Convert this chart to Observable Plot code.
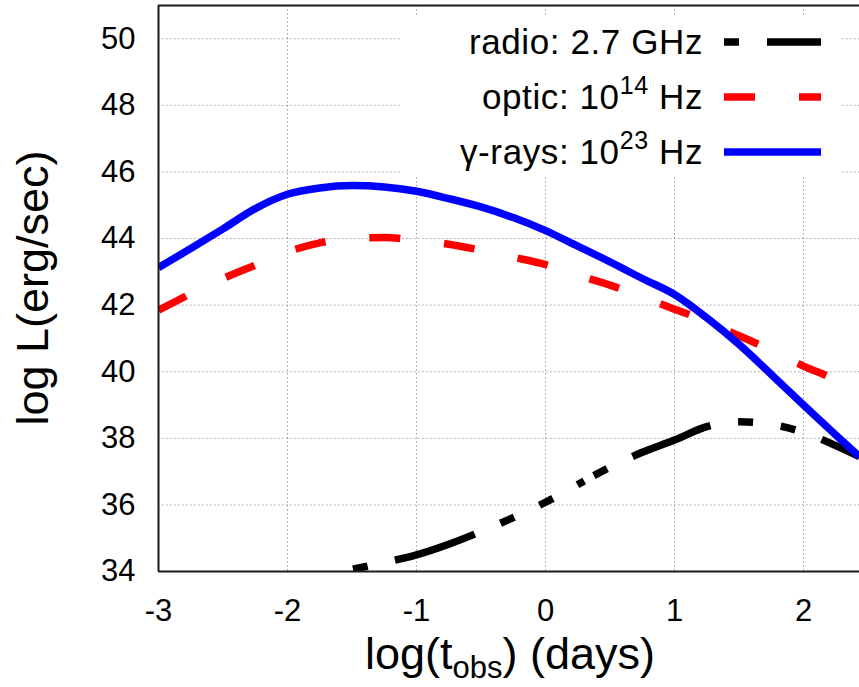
<!DOCTYPE html>
<html>
<head>
<meta charset="utf-8">
<script src="https://cdn.jsdelivr.net/npm/d3@7"></script>
<script src="https://cdn.jsdelivr.net/npm/@observablehq/plot@0.6"></script>
<style>
  html, body { margin: 0; padding: 0; background: #fff; }
  #chart svg { display: block; }
</style>
</head>
<body>
<div id="chart"></div>
<script>
// ---- data ----
const xTicks = [-3, -2, -1, 0, 1, 2];
const yTicks = [34, 36, 38, 40, 42, 44, 46, 48, 50];
const xDomain = [-3, 2.434];
const yDomain = [34, 51];

const gammaX = [-3, -2.75, -2.5, -2.25, -2.0, -1.75, -1.5, -1.25, -1.0, -0.75, -0.5, -0.25, 0, 0.25, 0.5, 0.75, 1.0, 1.25, 1.5, 1.75, 2.0, 2.25, 2.434];
const gammaY = [43.13, 43.7, 44.29, 44.9, 45.33, 45.52, 45.59, 45.55, 45.42, 45.2, 44.95, 44.63, 44.24, 43.77, 43.3, 42.8, 42.32, 41.62, 40.82, 39.92, 39.0, 38.1, 37.45];

const opticX = [-3, -2.5, -2.25, -2.0, -1.75, -1.5, -1.25, -1.0, -0.75, -0.5, -0.25, 0, 0.25, 0.5, 0.75, 1.0, 1.25, 1.5, 1.75, 2.0, 2.25, 2.434];
const opticY = [41.85, 42.8, 43.2, 43.6, 43.87, 44.0, 44.03, 43.95, 43.83, 43.65, 43.44, 43.22, 42.9, 42.6, 42.25, 41.88, 41.52, 41.08, 40.65, 40.17, 39.75, 39.3];

const radioX = [-1.75, -1.5, -1.25, -1.0, -0.75, -0.5, -0.25, 0, 0.3, 0.5, 0.75, 1.0, 1.25, 1.5, 1.75, 2.0, 2.25, 2.434];
const radioY = [33.85, 34.06, 34.27, 34.5, 34.82, 35.2, 35.62, 36.08, 36.72, 37.13, 37.58, 37.95, 38.35, 38.5, 38.42, 38.18, 37.78, 37.45];
const radioBreak = 0.3; // the reference's dash pattern restarts here

const seriesNames = ["radio: 2.7 GHz", "optic: 10", "γ-rays: 10"];
const seriesSup = [null, "14", "23"];
const xLabel = ["log(t", "obs", ") (days)"];
const yLabel = "log L(erg/sec)";

// ---- build rows ----
const toRows = (xs, ys) => xs.map((x, i) => ({x, y: ys[i]}));
const gamma = toRows(gammaX, gammaY);
const optic = toRows(opticX, opticY);
const radio = toRows(radioX, radioY);
const radioA = radio.filter(d => d.x <= radioBreak);
const radioB = radio.filter(d => d.x >= radioBreak);

const W = 859, H = 687;
const LW = 7.5;
const radioDash = "84,28,15,28,15,28";
const opticDash = "31,44";
const gridStyle = {stroke: "#9a9a9a", strokeWidth: 1, strokeDasharray: "1.5,2.5"};
const frameStyle = {stroke: "#1a1a1a", strokeWidth: 2};

const chart = Plot.plot({
  width: W,
  height: H,
  marginLeft: 158,
  marginRight: 0,
  marginTop: 5,
  marginBottom: 116,
  style: {fontFamily: "'Liberation Sans', Arial, sans-serif", fontSize: "31px", background: "#fff", color: "#000"},
  x: {domain: xDomain, ticks: xTicks, tickFormat: d => d.toString(), tickSize: 0, tickPadding: 27, label: null},
  y: {domain: yDomain, ticks: yTicks, tickFormat: d => d.toString(), tickSize: 0, tickPadding: 23, label: null},
  marks: [
    Plot.ruleX(xTicks, gridStyle),
    Plot.ruleY(yTicks, gridStyle),
    Plot.line(radioA, {x: "x", y: "y", stroke: "#000", strokeWidth: LW, strokeLinecap: "butt", strokeLinejoin: "round",
      strokeDasharray: radioDash, strokeDashoffset: 121, curve: "monotone-x", clip: true}),
    Plot.line(radioB, {x: "x", y: "y", stroke: "#000", strokeWidth: LW, strokeLinecap: "butt", strokeLinejoin: "round",
      strokeDasharray: radioDash, strokeDashoffset: 144, curve: "monotone-x", clip: true}),
    Plot.line(optic, {x: "x", y: "y", stroke: "#ff0000", strokeWidth: LW, strokeLinecap: "butt", strokeLinejoin: "round",
      strokeDasharray: opticDash, strokeDashoffset: 0, curve: "monotone-x", clip: true}),
    Plot.line(gamma, {x: "x", y: "y", stroke: "#0000ff", strokeWidth: LW, strokeLinecap: "butt", strokeLinejoin: "round",
      curve: "monotone-x", clip: true}),
    Plot.ruleX([xDomain[0]], frameStyle),
    Plot.ruleY([yDomain[0]], frameStyle),
    Plot.ruleY([yDomain[1]], frameStyle)
  ]
});

document.getElementById("chart").appendChild(chart);

// ---- axis titles and key (layout drawn into the same SVG) ----
const svg = d3.select(chart.tagName.toLowerCase() === "svg" ? chart : chart.querySelector("svg"));
const font = "'Liberation Sans', Arial, sans-serif";

// x title
const xt = svg.append("text")
  .attr("x", 510).attr("y", 669)
  .attr("text-anchor", "middle")
  .style("font-family", font).style("font-size", "45px").attr("fill", "#000");
xt.append("tspan").text(xLabel[0]);
xt.append("tspan").attr("dy", 9).style("font-size", "31px").text(xLabel[1]);
xt.append("tspan").attr("dy", -9).text(xLabel[2]);

// y title
svg.append("text")
  .attr("transform", "translate(48,288) rotate(-90)")
  .attr("text-anchor", "middle")
  .style("font-family", font).style("font-size", "45px").attr("fill", "#000")
  .text(yLabel);

// key
const key = svg.append("g");
key.append("rect").attr("x", 400).attr("y", 16).attr("width", 440).attr("height", 161).attr("fill", "#fff");
const rowY = [42, 97, 152];
const keyStroke = ["#000", "#ff0000", "#0000ff"];
const keyDash = [radioDash, opticDash, null];
const keyOffset = [155, 0, 0];
seriesNames.forEach((name, i) => {
  const t = key.append("text")
    .attr("x", 703).attr("y", rowY[i] + 12)
    .attr("text-anchor", "end")
    .style("font-family", font).style("font-size", "35px").style("letter-spacing", "0.6px").attr("fill", "#000");
  t.append("tspan").text(name);
  if (seriesSup[i]) {
    t.append("tspan").attr("dy", -15).style("font-size", "25px").text(seriesSup[i]);
    t.append("tspan").attr("dy", 15).text("\u00a0Hz");
  }
  const ln = key.append("line")
    .attr("x1", 724).attr("x2", 821)
    .attr("y1", rowY[i]).attr("y2", rowY[i])
    .attr("stroke", keyStroke[i]).attr("stroke-width", LW).attr("stroke-linecap", "butt");
  if (keyDash[i]) ln.attr("stroke-dasharray", keyDash[i]).attr("stroke-dashoffset", keyOffset[i]);
});
</script>
</body>
</html>
